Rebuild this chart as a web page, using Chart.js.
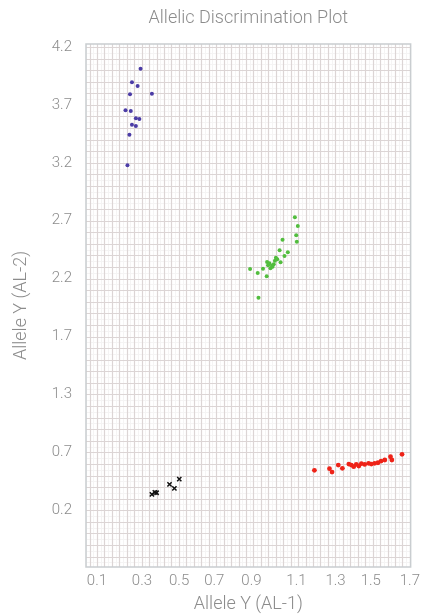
<!DOCTYPE html>
<html>
<head>
<meta charset="utf-8">
<script src="https://cdn.jsdelivr.net/npm/chart.js@4.4.1/dist/chart.umd.min.js"></script>
<style>
  html, body { margin: 0; padding: 0; background: #fff; }
  #wrap { width: 425px; height: 615px; }
</style>
</head>
<body>
<div id="wrap"><canvas id="plot"></canvas></div>
<script>
// Allele 1 (x) / Allele 2 (y) readings per cluster
const blueX = [0.323, 0.279, 0.308, 0.269, 0.381, 0.246, 0.273, 0.299, 0.317, 0.279, 0.299, 0.266, 0.256];
const blueY = [4.013, 3.895, 3.863, 3.792, 3.797, 3.653, 3.647, 3.584, 3.578, 3.529, 3.518, 3.443, 3.178];

const greenX = [1.112, 1.127, 1.119, 1.122, 1.049, 1.034, 1.076, 1.059, 1.015, 1.022, 1.039, 0.970, 0.982,
                1.004, 0.995, 0.987, 0.998, 0.949, 0.883, 0.922, 0.968, 0.926, 0.975, 1.010];
const greenY = [2.729, 2.654, 2.574, 2.519, 2.536, 2.444, 2.427, 2.395, 2.380, 2.367, 2.341, 2.343, 2.332,
                2.324, 2.311, 2.289, 2.303, 2.286, 2.283, 2.248, 2.220, 2.035, 2.315, 2.355];

const redX = [1.212, 1.289, 1.302, 1.334, 1.355, 1.388, 1.401, 1.413, 1.426, 1.439, 1.452,
              1.469, 1.489, 1.503, 1.520, 1.537, 1.553, 1.572, 1.601, 1.608, 1.660];
const redY = [0.545, 0.559, 0.530, 0.590, 0.562, 0.599, 0.590, 0.576, 0.596, 0.582, 0.602,
              0.596, 0.605, 0.599, 0.605, 0.610, 0.625, 0.634, 0.662, 0.634, 0.683];

const blackX = [0.381, 0.396, 0.405, 0.471, 0.496, 0.521];
const blackY = [0.337, 0.355, 0.351, 0.424, 0.389, 0.469];

// tick labels as printed on the original
const xTickValues = [0.1, 0.33, 0.52, 0.70, 0.89, 1.12, 1.32, 1.50, 1.70];
const xTickLabels = ['0.1', '0.3', '0.5', '0.7', '0.9', '1.1', '1.3', '1.5', '1.7'];
const yTickValues = [0.2, 0.7, 1.2, 1.7, 2.2, 2.7, 3.2, 3.7, 4.2];
const yTickLabels = ['0.2', '0.7', '1.3', '1.7', '2.2', '2.7', '3.2', '3.7', '4.2'];

const toPoints = (xs, ys) => xs.map((x, i) => ({ x: x, y: ys[i] }));

const textGrey = '#8c8c8c';
const fontFamily = "Roboto, 'Liberation Sans', sans-serif";

// graph-paper background behind the points, plus the title centred on the plot
const paperGrid = {
  id: 'paperGrid',
  beforeDatasetsDraw(chart) {
    const { ctx, chartArea: a, scales: { x, y } } = chart;
    ctx.save();
    ctx.beginPath();
    ctx.rect(a.left, a.top, a.right - a.left, a.bottom - a.top);
    ctx.clip();
    const xStep = 0.0381, yStep = 0.1;
    const drawSet = (xOff, yOff, color, width) => {
      ctx.strokeStyle = color;
      ctx.lineWidth = width;
      ctx.beginPath();
      for (let v = 0.1 + xOff - 3 * xStep; v < x.max + xStep; v += xStep) {
        const px = Math.round(x.getPixelForValue(v)) + 0.5;
        ctx.moveTo(px, a.top); ctx.lineTo(px, a.bottom);
      }
      for (let v = -0.3 + yOff; v < y.max + yStep; v += yStep) {
        const py = Math.round(y.getPixelForValue(v)) + 0.5;
        ctx.moveTo(a.left, py); ctx.lineTo(a.right, py);
      }
      ctx.stroke();
    };
    drawSet(xStep / 2, yStep / 2, '#f5f4f4', 1);
    drawSet(0, 0, '#dcd5d5', 1.2);
    ctx.restore();
    ctx.save();
    ctx.strokeStyle = '#c9cdd0';
    ctx.lineWidth = 1.5;
    ctx.strokeRect(a.left, a.top, a.right - a.left, a.bottom - a.top);
    ctx.restore();
  },
  afterDraw(chart) {
    const { ctx, chartArea: a } = chart;
    ctx.save();
    ctx.fillStyle = textGrey;
    ctx.font = "300 18px " + fontFamily;
    ctx.textAlign = 'center';
    ctx.textBaseline = 'middle';
    ctx.fillText('Allelic Discrimination Plot', (a.left + a.right) / 2, 18);
    ctx.restore();
  }
};

const ctx = document.getElementById('plot').getContext('2d');
new Chart(ctx, {
  type: 'scatter',
  data: {
    datasets: [
      { label: 'Allele 2', data: toPoints(blueX, blueY), backgroundColor: '#4b3ca6', borderColor: '#4b3ca6',
        pointRadius: 2, pointBorderWidth: 0 },
      { label: 'Heterozygous', data: toPoints(greenX, greenY), backgroundColor: '#52bd3e', borderColor: '#52bd3e',
        pointRadius: 2, pointBorderWidth: 0 },
      { label: 'Allele 1', data: toPoints(redX, redY), backgroundColor: '#ee2318', borderColor: '#ee2318',
        pointRadius: 2.4, pointBorderWidth: 0 },
      { label: 'No call', data: toPoints(blackX, blackY), backgroundColor: '#111', borderColor: '#111',
        pointStyle: 'crossRot', pointRadius: 3, pointBorderWidth: 1.5 }
    ]
  },
  options: {
    responsive: true,
    maintainAspectRatio: false,
    animation: false,
    layout: { padding: { left: 0, right: 12, top: 44, bottom: 0 } },
    plugins: {
      legend: { display: false },
      tooltip: { enabled: false },
      title: { display: false }
    },
    scales: {
      x: {
        type: 'linear',
        min: 0.044,
        max: 1.704,
        afterBuildTicks: (scale) => { scale.ticks = xTickValues.map(v => ({ value: v })); },
        afterFit: (scale) => { scale.height = 48; },
        grid: { display: false, drawTicks: false },
        border: { display: false },
        ticks: {
          padding: 5,
          color: textGrey,
          font: { family: fontFamily, size: 15, weight: '300' },
          maxRotation: 0,
          autoSkip: false,
          callback: (v, i) => xTickLabels[i]
        },
        title: {
          display: true,
          text: 'Allele Y (AL-1)',
          color: textGrey,
          font: { family: fontFamily, size: 18, weight: '300' },
          padding: { top: 0, bottom: 0 }
        }
      },
      y: {
        type: 'linear',
        min: -0.29,
        max: 4.226,
        afterBuildTicks: (scale) => { scale.ticks = yTickValues.map(v => ({ value: v })); },
        afterFit: (scale) => { scale.width = 86; },
        grid: { display: false, drawTicks: false },
        border: { display: false },
        ticks: {
          padding: 14,
          color: textGrey,
          font: { family: fontFamily, size: 15, weight: '300' },
          autoSkip: false,
          callback: (v, i) => yTickLabels[i]
        },
        title: {
          display: true,
          text: 'Allele Y (AL-2)',
          color: textGrey,
          font: { family: fontFamily, size: 18, weight: '300' },
          padding: { top: 11, bottom: 0 }
        }
      }
    }
  },
  plugins: [paperGrid]
});
</script>
</body>
</html>
